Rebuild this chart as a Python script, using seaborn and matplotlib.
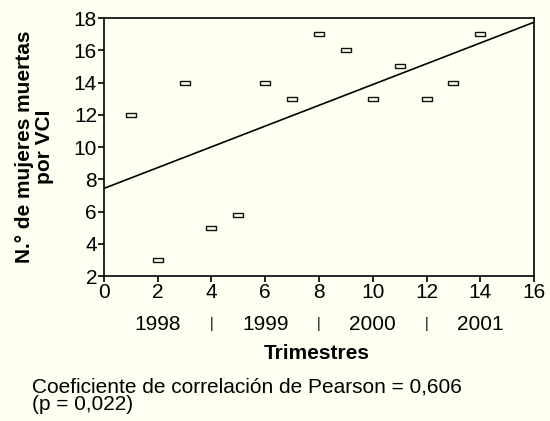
import matplotlib.pyplot as plt
import matplotlib.transforms as mtransforms
import pandas as pd
import seaborn as sns

# Data
trimestre = [1, 2, 3, 4, 5, 6, 7, 8, 9, 10, 11, 12, 13, 14]
mujeres = [12, 3, 14, 5, 5.8, 14, 13, 17, 16, 13, 15, 13, 14, 17]
year_pos = [2, 4, 6, 8, 10, 12, 14]
year_labels = ['1998', '|', '1999', '|', '2000', '|', '2001']

df = pd.DataFrame({'trimestre': trimestre, 'mujeres': mujeres})

sns.set_style('ticks')
plt.rcParams['font.family'] = ['Liberation Sans', 'DejaVu Sans']
plt.rcParams['text.color'] = 'black'
plt.rcParams['axes.labelcolor'] = 'black'
plt.rcParams['xtick.color'] = 'black'
plt.rcParams['ytick.color'] = 'black'
bg = '#fffff2'
fs = 15

fig = plt.figure(figsize=(5.5, 4.21), dpi=100, facecolor=bg)
ax = fig.add_axes([0.189, 0.344, 0.782, 0.613])
ax.set_facecolor(bg)
ax.set_xlim(0, 16)
ax.set_ylim(2, 18)

# rectangular hollow marker, wider than tall
rect = [(-1, -0.45), (1, -0.45), (1, 0.45), (-1, 0.45), (-1, -0.45)]
sns.regplot(data=df, x='trimestre', y='mujeres', ax=ax, ci=None, truncate=False,
            marker=rect,
            scatter_kws={'s': 45, 'facecolors': bg, 'edgecolors': '#111111',
                         'linewidths': 1.0, 'alpha': 1},
            line_kws={'color': 'black', 'linewidth': 1.2})
ax.set_xlim(0, 16)
ax.set_ylim(2, 18)

ax.set_xticks(range(0, 17, 2))
ax.set_yticks(range(2, 19, 2))
ax.tick_params(labelsize=fs, length=4, width=1.2, color='black', pad=1)
for s in ax.spines.values():
    s.set_linewidth(1.2)
    s.set_color('black')
ax.set_xlabel('')
ax.set_ylabel('N.° de mujeres muertas\npor VCI', fontsize=fs, fontweight='bold',
              linespacing=1.05, labelpad=14)

trans = mtransforms.blended_transform_factory(ax.transData, fig.transFigure)
for xp, lab in zip(year_pos, year_labels):
    ax.text(xp, 0.230, lab, transform=trans, ha='center', va='center',
            fontsize=fs if lab != '|' else 10)

fig.text(0.575, 0.160, 'Trimestres', ha='center', va='center',
         fontsize=fs, fontweight='bold')
fig.text(0.058, 0.060, 'Coeficiente de correlación de Pearson = 0,606\n(p = 0,022)',
         ha='left', va='center', fontsize=fs, linespacing=0.85)

fig.savefig('out.png', dpi=100, facecolor=bg)
